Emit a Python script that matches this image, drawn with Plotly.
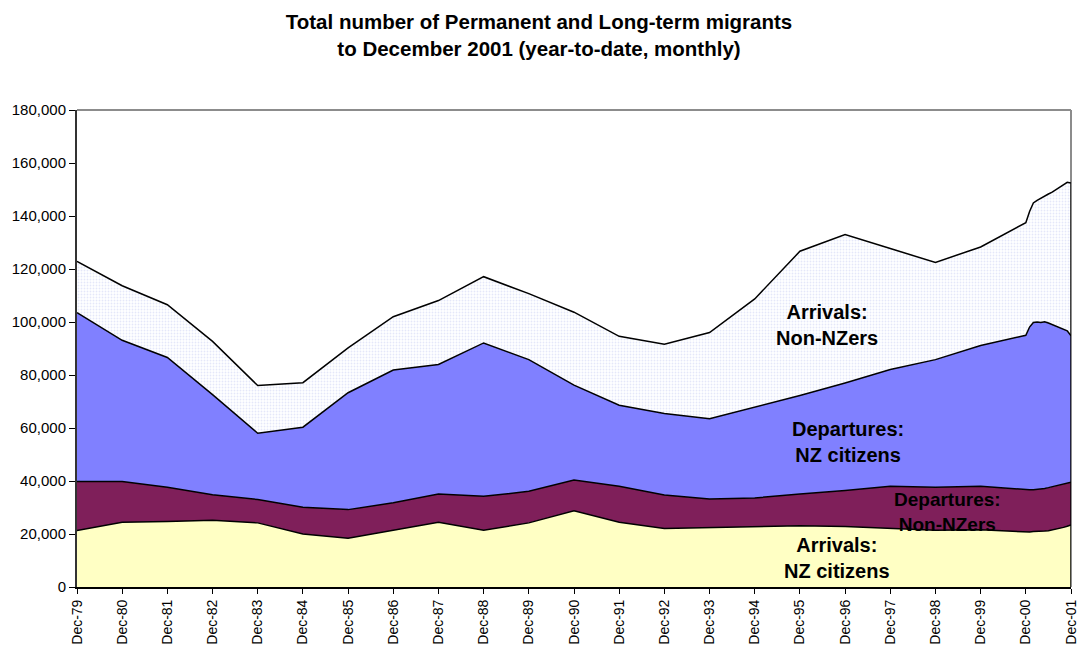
import plotly.graph_objects as go

# x positions in years after Dec-79: annual December values 1979-2000,
# then monthly Jan-Dec 2001
annual_x = list(range(0, 22))
monthly_x = [21 + m / 12 for m in range(1, 13)]
xs = annual_x + monthly_x

tick_vals = list(range(0, 23))
tick_text = ["Dec-79", "Dec-80", "Dec-81", "Dec-82", "Dec-83", "Dec-84", "Dec-85",
             "Dec-86", "Dec-87", "Dec-88", "Dec-89", "Dec-90", "Dec-91", "Dec-92",
             "Dec-93", "Dec-94", "Dec-95", "Dec-96", "Dec-97", "Dec-98", "Dec-99",
             "Dec-00", "Dec-01"]

# Series values (year-to-date totals)
arrivals_nz = [21300, 24400, 24700, 25200, 24200, 20000, 18400, 21400, 24400, 21400,
               24200, 28800, 24400, 22100, 22500, 22900, 23100, 22800, 22000, 21400,
               21600, 20700,
               20750, 20900, 20900, 21000, 21100, 21250, 21500, 21750, 22100, 22500,
               22900, 23400]
departures_non_nz = [18500, 15400, 12900, 9600, 8800, 10100, 10800, 10400, 10700, 12800,
                     11900, 11600, 13600, 12600, 10700, 10700, 12000, 13600, 16000, 16200,
                     16400, 15900,
                     15950, 15800, 15900, 16000, 16100, 16250, 16300, 16450, 16400, 16400,
                     16300, 16100]
departures_nz = [63700, 53300, 49000, 37800, 25000, 30200, 44100, 50100, 48900, 57900,
                 49700, 35800, 30600, 30800, 30300, 34200, 37200, 40600, 44100, 48200,
                 53100, 58400,
                 61400, 63100, 63200, 62800, 62900, 62100, 61200, 60100, 59200, 58400,
                 57500, 55300]
arrivals_non_nz = [19400, 20600, 19900, 20100, 18000, 16800, 16900, 20100, 24100, 25000,
                   24900, 27500, 26000, 26100, 32500, 40900, 54400, 56000, 45600, 36700,
                   37200, 42500,
                   43600, 45100, 45900, 47000, 47600, 48700, 50000, 51600, 53100, 54400,
                   56000, 57600]

fig = go.Figure()
line = dict(color="black", width=1.5)
fig.add_trace(go.Scatter(x=xs, y=arrivals_nz, stackgroup="one", mode="lines",
                         line=line, fillcolor="#FFFFC4", name="Arrivals: NZ citizens"))
fig.add_trace(go.Scatter(x=xs, y=departures_non_nz, stackgroup="one", mode="lines",
                         line=line, fillcolor="#7F1F5A", name="Departures: Non-NZers"))
fig.add_trace(go.Scatter(x=xs, y=departures_nz, stackgroup="one", mode="lines",
                         line=line, fillcolor="#8080FF", name="Departures: NZ citizens"))
fig.add_trace(go.Scatter(x=xs, y=arrivals_non_nz, stackgroup="one", mode="lines",
                         line=line, fillcolor="white",
                         fillpattern=dict(shape=".", fgcolor="#C9D0F4", bgcolor="white",
                                          size=3, solidity=0.3),
                         name="Arrivals: Non-NZers"))

# right-hand closing edge of the stacked areas
last_total = arrivals_nz[-1] + departures_non_nz[-1] + departures_nz[-1] + arrivals_non_nz[-1]
fig.add_trace(go.Scatter(x=[xs[-1], xs[-1]], y=[0, last_total], mode="lines",
                         line=dict(color="black", width=1.5), showlegend=False,
                         hoverinfo="skip"))

W, H = 1079, 646
L, R, T, B = 77, 1071, 110, 587


def px(xp):
    return (xp - L) / (R - L)


def py(yp):
    return (B - yp) / (B - T)


FAM = "Arial, Liberation Sans, sans-serif"
lab_font = dict(family=FAM, size=20, color="black")
annotations = [
    dict(text="<b>Arrivals:<br>Non-NZers</b>", x=px(827), y=py(325)),
    dict(text="<b>Departures:<br>NZ citizens</b>", x=px(848), y=py(442)),
    dict(text="<b>Departures:<br>Non-NZers</b>", x=px(947), y=py(512),
         font=dict(family=FAM, size=19, color="black")),
    dict(text="<b>Arrivals:<br>NZ citizens</b>", x=px(837), y=py(558)),
]
for a in annotations:
    a.setdefault("font", lab_font)
    a.update(xref="paper", yref="paper", showarrow=False, xanchor="center",
             yanchor="middle", align="center")

fig.update_layout(
    width=W, height=H,
    margin=dict(l=L, r=W - R, t=T, b=H - B, autoexpand=False),
    paper_bgcolor="white", plot_bgcolor="white",
    showlegend=False,
    title=dict(text="<b>Total number of Permanent and Long-term migrants<br>"
                    "to December 2001 (year-to-date, monthly)</b>",
               x=539 / W, xanchor="center", y=1 - 29 / H, yanchor="middle",
               font=dict(family=FAM, size=20.5, color="black")),
    font=dict(family=FAM, size=15, color="black"),
    annotations=annotations,
    shapes=[
        dict(type="line", xref="paper", yref="paper", x0=0, x1=1, y0=1, y1=1,
             line=dict(color="#8C8C8C", width=2), layer="below"),
        dict(type="line", xref="paper", yref="paper", x0=1, x1=1, y0=0, y1=1,
             line=dict(color="#8C8C8C", width=2), layer="below"),
    ],
)
fig.update_xaxes(
    range=[0, 22], automargin=False, ticklabeloverflow="allow",
    tickmode="array", tickvals=tick_vals, ticktext=tick_text, tickangle=-90,
    ticks="outside", ticklen=5, tickcolor="black", tickwidth=1,
    showline=True, linecolor="black", linewidth=2, showgrid=False, zeroline=False,
    tickfont=dict(size=14),
)
fig.update_yaxes(
    range=[0, 180000], dtick=20000, tickformat=",", automargin=False,
    ticks="outside", ticklen=6, tickcolor="black", tickwidth=1,
    showline=True, linecolor="#333333", linewidth=2, showgrid=False, zeroline=False,
    tickfont=dict(size=15),
)

fig.write_html("out.html")
